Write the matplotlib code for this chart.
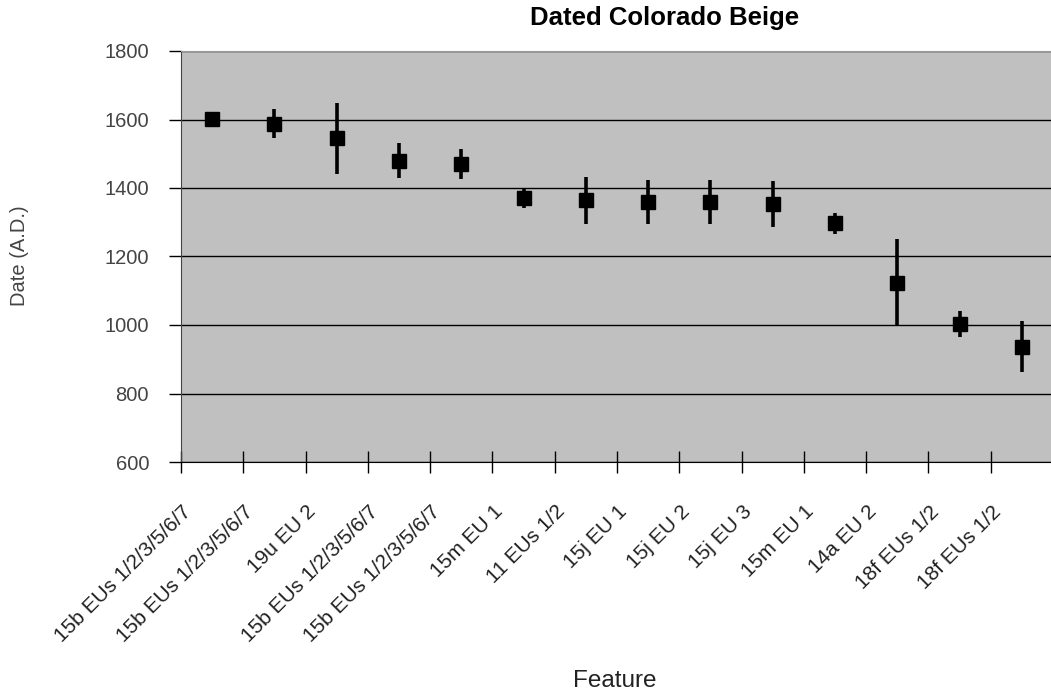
import numpy as np
import matplotlib.pyplot as plt
from matplotlib.transforms import ScaledTranslation

plt.rcParams['font.family'] = ['Liberation Sans', 'DejaVu Sans']

features = ["15b EUs 1/2/3/5/6/7", "15b EUs 1/2/3/5/6/7", "19u EU 2",
            "15b EUs 1/2/3/5/6/7", "15b EUs 1/2/3/5/6/7", "15m EU 1",
            "11 EUs 1/2", "15j EU 1", "15j EU 2", "15j EU 3", "15m EU 1",
            "14a EU 2", "18f EUs 1/2", "18f EUs 1/2"]
dates = [1602, 1588, 1545, 1480, 1470, 1370, 1364, 1358, 1358, 1354, 1297, 1124, 1004, 937]
errors = [0, 42, 103, 52, 45, 27, 69, 64, 64, 67, 31, 127, 38, 75]

fig = plt.figure(figsize=(10.51, 6.98), dpi=100)
ax = fig.add_axes([181 / 1051, 1 - 462 / 698, 872 / 1051, 411 / 698])
ax.set_facecolor('#c0c0c0')

x = np.arange(len(dates)) + 0.5
ax.errorbar(x, dates, yerr=errors, fmt='s', color='black', ms=10.5,
            elinewidth=2.6, capsize=0, zorder=3)

ax.set_xlim(0, len(dates))
ax.set_ylim(600, 1800)
ax.set_yticks(np.arange(600, 1801, 200))
ax.yaxis.grid(True, color='black', linewidth=1)
ax.set_axisbelow(True)

ax.set_xticks(np.arange(len(dates) + 1))
ax.set_xticklabels([])
ax.set_xticks(x, minor=True)
ax.set_xticklabels(features, minor=True, rotation=45, ha='right', va='top',
                   fontsize=15, color='#222222')
ax.tick_params(axis='x', which='minor', length=0, pad=0)
ax.tick_params(axis='x', which='major', direction='inout', length=16, width=1)
ax.tick_params(axis='y', direction='out', length=9, width=1,
               labelsize=14.5, labelcolor='#444444', pad=14)
off = ScaledTranslation(-0.17, -0.40, fig.dpi_scale_trans)
for lab in ax.get_xticklabels(minor=True):
    lab.set_transform(lab.get_transform() + off)

ax.spines['left'].set_color('#444444')
ax.spines['bottom'].set_color('black')
ax.spines['top'].set_color('#999999')
ax.spines['right'].set_visible(False)

fig.text(20 / 1051, 1 - 256 / 698, 'Date (A.D.)', rotation=90, ha='center',
         va='center', fontsize=14.5, color='#444444')
fig.text(615 / 1051, 1 - 681 / 698, 'Feature', ha='center', va='center',
         fontsize=17.5, color='#222222')
fig.text(665 / 1051, 1 - 18 / 698, 'Dated Colorado Beige', ha='center',
         va='center', fontsize=18.5, fontweight='bold')

fig.savefig('out.png', dpi=100)
